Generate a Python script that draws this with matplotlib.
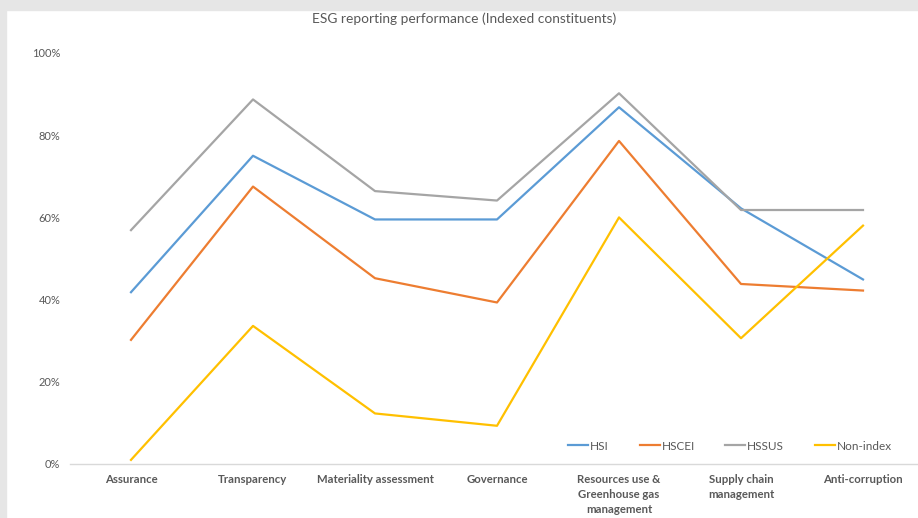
import matplotlib.pyplot as plt
from matplotlib.ticker import PercentFormatter

categories = ["Assurance", "Transparency", "Materiality assessment", "Governance",
              "Resources use &\nGreenhouse gas\nmanagement", "Supply chain\nmanagement",
              "Anti-corruption"]
hsi = [41.8, 75.0, 59.5, 59.5, 86.8, 62.2, 44.9]
hscei = [30.2, 67.5, 45.2, 39.3, 78.6, 43.8, 42.2]
hssus = [56.9, 88.7, 66.4, 64.1, 90.2, 61.8, 61.8]
non_index = [1.0, 33.6, 12.3, 9.3, 60.0, 30.6, 58.0]

series = [("HSI", hsi, "#5B9BD5"), ("HSCEI", hscei, "#ED7D31"),
          ("HSSUS", hssus, "#A5A5A5"), ("Non-index", non_index, "#FFC000")]

plt.rcParams['font.family'] = ['Lato', 'DejaVu Sans']

W, H = 918, 518
fig = plt.figure(figsize=(W / 100, H / 100), dpi=100)
fig.patch.set_facecolor("white")
# grey frame strips (screenshot edge)
fig.add_artist(plt.Rectangle((0, 0), 6 / W, 1, transform=fig.transFigure, color="#e6e6e6", zorder=0))
fig.add_artist(plt.Rectangle((0, 1 - 10 / H), 1, 10 / H, transform=fig.transFigure, color="#e6e6e6", zorder=0))

ax = fig.add_axes([70 / W, (H - 464) / H, 854 / W, 411 / H])
x = list(range(len(categories)))
for name, vals, col in series:
    ax.plot(x, vals, color=col, lw=1.6, label=name)

ax.set_xlim(-0.5, len(categories) - 0.5)
ax.set_ylim(0, 100)
ax.set_yticks([0, 20, 40, 60, 80, 100])
ax.yaxis.set_major_formatter(PercentFormatter(decimals=0))
ax.set_xticks(x)
ax.set_xticklabels(categories, fontsize=8.2, color="#595959", fontweight="bold", va="top",
                   linespacing=1.45)
ax.tick_params(axis="y", labelsize=8, colors="#595959", length=0, pad=7)
ax.tick_params(axis="x", length=0, pad=7)
for s in ["top", "right", "left"]:
    ax.spines[s].set_visible(False)
ax.spines["bottom"].set_color("#d9d9d9")
ax.spines["bottom"].set_linewidth(1)

fig.text(464 / W, 1 - 19 / H, "ESG reporting performance (Indexed constituents)",
         ha="center", va="center", fontsize=9.9, color="#595959")

leg = ax.legend(loc="center", bbox_to_anchor=(730 / W, 1 - 446 / H), bbox_transform=fig.transFigure,
                ncol=4, frameon=False, fontsize=8.5, handlelength=1.7, handletextpad=0.15,
                columnspacing=2.6, labelcolor="#595959")

fig.savefig("out.png", dpi=100)
